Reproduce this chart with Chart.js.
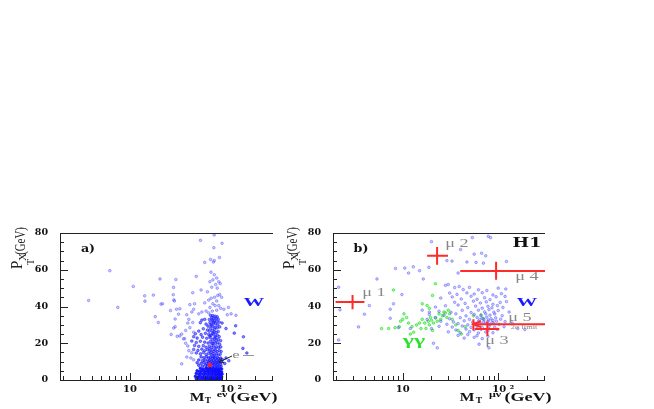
<!DOCTYPE html>
<html>
<head>
<meta charset="utf-8">
<script src="https://cdn.jsdelivr.net/npm/chart.js@4"></script>
<style>
  body { margin: 0; background: #fff; width: 654px; height: 409px; overflow: hidden; position: relative; }
  canvas { position: absolute; top: 220px; }
  #chartA { left: 0; }
  #chartB { left: 280px; }
</style>
</head>
<body>
<canvas id="chartA" width="280" height="189"></canvas>
<canvas id="chartB" width="280" height="189"></canvas>
<script>
// all events are [M_T in GeV, P_T^X in GeV]
const sparseA = [[3.7,43.3],[6.15,59.5],[7.45,39.5],[10.8,50.9],[14.2,45.8],[14.3,42.9],[17.5,46.2],[18.3,34.5],[19.7,31.3],[20.5,55],[21,41.3],[21.8,41.5],
  [30,54.7],[28.4,50.4],[28.2,46.4],[28.6,43.6],[29,43],[26.4,37.8],[30.5,38.5],[33,38.8],[32,35.8],[29.5,33.2],[26.8,24.8],[28.5,28.3],[29.5,29],[31,23.8],[33,24],[34.5,25],
  [37,22.5],[38,20],[40,18.5],[36,22.4],[41,16],[44,14.8],[34.5,8.8],[39,12.5],[43,12],[46,11],[38,27],[42,28.5],[40,31],[45,31.3],[46,26],[41,33],[39,35.5],[44,37],[46,38.5],[42,41],[47,41.5],[45,47.5],[49,56.4],[55,49]];
const upperA = [[54.2,76],[75.3,78.9],[91,74.4],[74.7,72],[85.5,66.7],[69,65.6],[75.5,65],[60,64],[74,64.2],[69.7,58.7],[75.5,57.3],[80,55.5],[73,54.5],[68,53.5],[84,53.5],[87,52.5],[78,52],[81,50],[71,50.5],
  [64,48],[86,46.5],[82,46],[76,45],[70,44.5],[66,43.5],[90,45],[80,43],[73,41.5],[77,40.5],[84,40.5],[60,42],[68,39.5],[88,39],[80,38],[95,38.5],[106,39.5],[56,37],[62,37.5],[72,37.5],[66,36.5],[113,36],[103,35.5],[127,35.2],[52,36]];
const columnA = [[69,35.2],[73,35],[77,34.7],[81,34.4],[71,34.1],[75,33.6],[79,33.4],[83,33.1],[67,32.9],[72,32.4],[76,32.1],[80,31.8],[85,31.5],[68,31.2],[74,30.9],[78,30.6],[70,30.2],[82,30],[91,31],[60,33],[56,32.6],[54,31.2],[62,30.4],[65,29.3],[73,29.1],[77,28.7],[81,28.4],[86,28.9],[69,28.1],[126,29.5],[58,27.9],[64,27.2],[67,26.6],[72,26.9],[75,26.2],[79,25.9],[83,26.4],
  [52,26.6],[48,25.2],[55,24.7],[61,25.4],[66,24.8],[70,24.3],[74,25.1],[77,23.9],[81,24.4],[85,23.6],[122,25.5],[100,28],[46,23.6],[50,22.8],[57,23.3],[63,22.7],[68,23.1],[72,22.2],[76,22.7],[79,21.6],[83,22.1],[88,21.4],[44,21.2],[49,20.4],[54,21.1],[60,20.6],[65,20.1],[69,21],[73,19.7],[75,20.8],[78,19.9],[82,20.3],[86,19.4],[152,23.5],
  [47,18.8],[52,18.3],[58,18.7],[62,17.8],[67,18.4],[71,17.7],[74,18.6],[77,17.4],[80,18.1],[84,17.6],[88,18],[46,16.6],[51,16.1],[56,16.8],[60,15.9],[64,16.5],[68,15.8],[72,16.4],[75,15.6],[78,16.2],[81,15.4],[85,16],[89,15.5],[150,17.2],[165,14.7],[49,14.7],[54,14.2],[58,14.9],[62,13.9],[66,14.5],[70,13.7],[73,14.4],[76,13.5],[79,14.2],[83,13.6],[87,14],[100,12],[107,10.5],
  [71,33],[74,31.4],[70,29.6],[76,27.6],[72,25.4],[68,24],[78,23],[71,19.9],[67,17],[70,15],[74,12.8]];
const middleA = [[55,12.6],[59,12.1],[63,12.7],[66,11.9],[69,12.4],[72,11.8],[75,12.3],[78,11.7],[81,12.2],[84,11.6],[88,12],[92,11],[52,10.9],[57,10.6],[61,10.9],[65,10.3],[68,10.8],[71,10.2],[74,10.7],[77,10.1],[80,10.6],[83,10],[86,10.5],[90,9.8],[50,9.4],[55,9.1],[59,9.6],[63,8.9],[66,9.4],[69,8.8],[72,9.3],[75,8.7],[78,9.2],[81,8.6],[84,9.1],[88,8.5],[97,9],[52,8],[57,7.6],[61,8.1],[64,7.4],[67,7.9],[70,7.3],[73,7.8],[76,7.2],[79,7.7],[82,7.1],[85,7.6],[89,7.4]];
const bottomA = [[54,6.4],[58,6],[62,6.5],[65,5.9],[68,6.4],[71,5.8],[74,6.3],[77,5.7],[80,6.2],[83,5.6],[86,6.1],[90,6],[50,5],[53,4.7],[56,5.2],[59,4.6],[62,5.1],[65,4.5],[68,5],[71,4.4],[74,4.9],[77,4.3],[80,4.8],[83,4.2],[86,4.7],[90,4.4],
  [49,3.6],[52,3.2],[55,3.7],[58,3.1],[61,3.6],[64,3],[67,3.5],[70,2.9],[73,3.4],[76,2.8],[79,3.3],[82,2.7],[85,3.2],[88,2.8],[91,3.2],[48,2],[51,1.6],[54,2.1],[57,1.5],[60,2],[63,1.4],[66,1.9],[69,1.3],[72,1.8],[75,1.2],[78,1.7],[81,1.1],[84,1.6],[87,1.2],[90,1.7],[49,0.7],[53,0.5],[56,0.8],[59,0.4],[62,0.7],[65,0.3],[68,0.6],[71,0.3],[74,0.6],[77,0.3],[80,0.5],[83,0.3],[86,0.5],[89,0.4]];

const sparseB = [[2.13,50.5],[2.2,38.2],[2.13,21.8],[3.44,28.9],[3.97,35.8],[4.47,40.5],[5.37,55],[7.4,38.5],[8,41.5],[7.4,33.6],[8.4,60.7],[10.5,60.9],[12.9,61.6],[11.5,58.2],[15,59.5],[16.4,55],[18.8,61.3],[20,75.3],[9.8,46.5],[29,65],[32.8,64.7],[40.3,71],[53.6,77.5],[78.6,78.2],[83,77.5],[56,68.5],[67,69],[74,67.6],[47,64.2],[58.6,64],[70,63.6],[122,64.5],[38,58.2],[30,52],[21,20],[23,17.5],[63,19.5],[80,17.5],[16,38],[18,33],[12,28],[9,28.5],[19,37],[20,28]];
const cloudB = [[28,51.5],[35,50.3],[39,50.9],[43,49.2],[50,50.4],[62,49.1],[76,48.7],[100,50],[120,49.5],[31,47.3],[37,46.6],[47,47.4],[56,46.8],[68,47.5],[88,46.3],[108,47],[25,44.6],[33,45.2],[41,44.1],[52,45.6],[60,43.9],[72,44.8],[82,43.7],[95,45.3],[118,45.5],[35,42.3],[45,41.7],[55,42.9],[65,41.9],[75,42.5],[88,41.2],[105,42.2],[122,42.7],
  [22,39.7],[28,40.4],[38,40.8],[48,39.4],[58,40.2],[68,39.1],[78,40.1],[86,39.3],[98,40.5],[112,39.5],[24,37.4],[32,36.9],[42,37.9],[52,36.7],[62,38],[72,37.1],[80,38.3],[90,36.9],[100,37.8],[130,37],[19,35.7],[27,35.2],[36,36],[46,34.9],[56,35.7],[66,35],[74,36],[82,35.3],[92,35.9],[110,35],
  [22,33.8],[31,33.3],[40,33.9],[50,33],[60,34.1],[68,33.6],[76,34.2],[84,33.3],[94,33.8],[106,33.1],[64,32.9],[71,32.8],[79,32.6],[88,32.4],[25,32],[34,31.6],[44,32.2],[54,31.4],[62,32],[70,31.7],[78,31.9],[86,31.3],[96,32],[118,31.8],[29,30.3],[38,30.7],[48,30],[58,30.8],[66,30.5],[74,30.9],[82,30.2],[90,30.7],[102,30.3],[140,31],
  [24,29.2],[33,28.8],[42,29.4],[52,28.6],[60,29.1],[68,28.5],[80,29],[92,28.7],[115,29],[36,27.2],[46,27.7],[56,27.3],[66,27.6],[78,26.9],[98,27.5],[160,28],[190,27.5],[30,26.2],[40,25.8],[50,26.3],[62,25.6],[74,26.1],[88,25.7],[38,24.3],[48,24.7],[60,24.1],[78,23.8],[44,22.8],[56,23.2],[68,22.5]];
const gammaB = [[8,49],[22,52.4],[20.5,46],[16,41.5],[18,40.5],[19,39],[10.3,36],[6,28],[7.1,28],[8.3,28.5],[9.2,29],[9.5,32],[10,33],[11,34],[11.5,31],[12.5,29],[13,26],[12,25],[14,30],[15,31],[15.5,28],[16,33],[17,31],[17.5,28],[18.5,32],[19,30],[19.5,34],[20,32.5],[20.5,27],[21,31],[22,34],[23,32],[24,36],[25,33],[26,35],[27,37],[28,36.5],[29,34],[30,38],[31,36],[33,33],[36,30],[38,27],[41,25],[45,29],[55,35],[66,35.5],[70,33.5]];

// muon candidates: centre and error bar ends
const muMass = [2.98, 22.9, 95, 55, 77];
const muMassLo = [1.98, 18, 40, 53.5, 57.3];
const muMassHi = [3.97, 29.8, 309, 309, 102.6];
const muPt = [42.4, 67.6, 59.3, 30.4, 27.8];
const muPtLo = [38.5, 62.7, 54.5, 27, 24];
const muPtHi = [46.2, 72.4, 64.4, 33, 31.8];
// limit arrow on mu5
const limitMass = [66, 55, 66];
const limitPt = [32, 30.4, 28.8];
// the electron candidate in a)
const eleMass = [67.7];
const elePt = [8.2];

const xLabelTicks = [10, 100];
const xMinorTicks = [2,3,4,5,6,7,8,9,10,20,30,40,50,60,70,80,90,100,200,300];
const yLabelTicks = [0, 20, 40, 60, 80];
const yMinorTicks = [5,10,15,25,30,35,45,50,55,65,70,75];

const serif = '"Liberation Serif", serif';
const wide = '"DejaVu Serif", serif';
const blue = 'rgba(70,70,255,0.55)';

function toPoints(pairs) {
  return pairs.map(p => ({ x: p[0], y: p[1] }));
}

function crossPoints() {
  let pts = [];
  for (let i = 0; i < muMass.length; i++) {
    pts.push({ x: muMassLo[i], y: muPt[i] }, { x: muMassHi[i], y: muPt[i] }, { x: muMass[i], y: null });
    pts.push({ x: muMass[i], y: muPtLo[i] }, { x: muMass[i], y: muPtHi[i] }, { x: muMass[i], y: null });
  }
  return pts;
}

function text(ctx, str, x, y, font, color, stretch) {
  ctx.save();
  ctx.translate(x, y);
  ctx.scale(stretch || 1, 1);
  ctx.font = font;
  ctx.fillStyle = color;
  ctx.textBaseline = 'middle';
  ctx.textAlign = 'center';
  ctx.fillText(str, 0, 0);
  ctx.restore();
}

// inward ticks and the frame
const framePlugin = {
  id: 'frame',
  afterDraw(chart) {
    const { ctx, chartArea: a, scales } = chart;
    ctx.save();
    ctx.strokeStyle = '#222';
    ctx.lineWidth = 1;
    ctx.beginPath();
    ctx.moveTo(a.left + 0.5, a.top + 0.5);
    ctx.lineTo(a.right, a.top + 0.5);
    ctx.moveTo(a.left + 0.5, a.top);
    ctx.lineTo(a.left + 0.5, a.bottom + 0.5);
    ctx.lineTo(a.right, a.bottom + 0.5);
    xMinorTicks.forEach(v => {
      const px = Math.round(scales.x.getPixelForValue(v)) + 0.5;
      ctx.moveTo(px, a.bottom);
      ctx.lineTo(px, a.bottom - (xLabelTicks.includes(v) ? 7 : 4));
    });
    yLabelTicks.forEach(v => {
      const py = Math.round(scales.y.getPixelForValue(v)) + 0.5;
      ctx.moveTo(a.left, py);
      ctx.lineTo(a.left + 8, py);
    });
    yMinorTicks.forEach(v => {
      const py = Math.round(scales.y.getPixelForValue(v)) + 0.5;
      ctx.moveTo(a.left, py);
      ctx.lineTo(a.left + 4, py);
    });
    ctx.stroke();
    ctx.restore();
  }
};

const labelsA = {
  id: 'labelsA',
  afterDraw(chart) {
    const ctx = chart.ctx;
    text(ctx, 'a)', 88, 29, 'bold 11px ' + wide, '#111', 1.15);
    text(ctx, 'W', 254, 83, 'bold 13px ' + serif, '#1a1aff', 1.6);
    text(ctx, 'e', 236, 135, '11px ' + serif, '#888', 1.5);
    ctx.save();
    ctx.strokeStyle = '#999';
    ctx.beginPath();
    ctx.moveTo(243, 135.5);
    ctx.lineTo(254, 135.5);
    ctx.stroke();
    ctx.strokeStyle = '#222';
    ctx.beginPath();
    ctx.moveTo(232, 136);
    ctx.lineTo(219, 142);
    ctx.moveTo(224, 142.5);
    ctx.lineTo(219, 142);
    ctx.lineTo(222, 138);
    ctx.stroke();
    ctx.restore();
    yTitle(ctx, 18);
    xTitle(ctx, 'e\u03bd', 197, 208, 222, 254);
  }
};

const labelsB = {
  id: 'labelsB',
  afterDraw(chart) {
    const ctx = chart.ctx;
    const grey = '#888';
    const muFont = '13px ' + serif;
    text(ctx, 'b)', 81, 29, 'bold 11px ' + wide, '#111', 1.15);
    text(ctx, 'H1', 247, 24, 'bold 13px ' + wide, '#111', 1.35);
    text(ctx, '\u03bc 1', 94, 73, muFont, grey, 1.4);
    text(ctx, '\u03bc 2', 177, 24, muFont, grey, 1.4);
    text(ctx, '\u03bc 4', 247, 57, muFont, grey, 1.4);
    text(ctx, '\u03bc 5', 240, 98, muFont, grey, 1.4);
    text(ctx, '\u03bc 3', 217, 121, muFont, grey, 1.4);
    text(ctx, '2\u03c3 limit', 244, 107, '7px ' + serif, grey, 1.2);
    text(ctx, 'W', 247, 83, 'bold 13px ' + serif, '#1a1aff', 1.6);
    text(ctx, '\u03b3\u03b3', 134, 121, 'bold 14px ' + serif, '#30e030', 1.7);
    yTitle(ctx, 10);
    xTitle(ctx, '\u03bc\u03bd', 187, 199, 215, 248);
  }
};

function yTitle(ctx, x) {
  ctx.save();
  ctx.translate(x, 45);
  ctx.rotate(-Math.PI / 2);
  text(ctx, 'P', 0, 0, '17px ' + serif, '#222', 0.9);
  text(ctx, 'T', 3, 13, '10px ' + serif, '#222', 1);
  text(ctx, 'X', 8, 5, '11px ' + serif, '#222', 1);
  text(ctx, '(GeV)', 24, 3, '15px ' + serif, '#222', 0.72);
  ctx.restore();
}

function xTitle(ctx, sup, mx, tx, sx, gx) {
  const y = 178;
  text(ctx, 'M', mx, y, 'bold 12px ' + serif, '#111', 1.3);
  text(ctx, 'T', tx, y + 3, 'bold 8px ' + serif, '#111', 1.2);
  text(ctx, sup, sx, y - 3, 'bold 8px ' + serif, '#111', 1.5);
  text(ctx, '(GeV)', gx, y, 'bold 12px ' + serif, '#111', 1.5);
}

function scatterSet(data, color, fill) {
  return { type: 'scatter', data: data, pointStyle: 'circle', pointRadius: 1.3, borderWidth: 0.8,
    pointBorderColor: color, pointBackgroundColor: fill, showLine: false };
}

function makeChart(id, datasets, labelPlugin, yWidth, padRight) {
  return new Chart(document.getElementById(id), {
    data: { datasets: datasets },
    plugins: [framePlugin, labelPlugin],
    options: {
      responsive: false,
      animation: false,
      layout: { padding: { top: 13, right: padRight, left: 0, bottom: 0 } },
      plugins: { legend: { display: false }, tooltip: { enabled: false } },
      scales: {
        x: {
          type: 'logarithmic', min: 1.86, max: 309,
          afterBuildTicks(s) { s.ticks = xLabelTicks.map(v => ({ value: v })); },
          afterFit(s) { s.height = 29; s.paddingLeft = 0; s.paddingRight = 0; },
          grid: { display: false, drawTicks: false, tickLength: 0 }, border: { display: false },
          ticks: {
            autoSkip: false, maxRotation: 0, padding: 3, color: '#111',
            font: { family: wide, weight: 'bold', size: 10 },
            callback: v => v === 100 ? '\u200310 \u00b2' : String(v)
          }
        },
        y: {
          min: 0, max: 80,
          afterBuildTicks(s) { s.ticks = yLabelTicks.map(v => ({ value: v })); },
          afterFit(s) { s.width = yWidth; s.paddingTop = 0; s.paddingBottom = 0; },
          grid: { display: false, drawTicks: false, tickLength: 0 }, border: { display: false },
          ticks: {
            padding: 12, color: '#111',
            font: { family: wide, weight: 'bold', size: 9.5 }
          }
        }
      }
    }
  });
}

makeChart('chartA', [
  { type: 'scatter', data: eleMass.map((m, i) => ({ x: m, y: elePt[i] })), pointRadius: 2.2, pointBackgroundColor: '#ff2020', pointBorderWidth: 0, order: 0 },
  scatterSet(toPoints(sparseA), blue, 'rgba(90,90,255,0.3)'),
  scatterSet(toPoints(upperA), blue, 'rgba(90,90,255,0.3)'),
  scatterSet(toPoints(columnA), 'rgba(30,30,255,0.75)', 'rgba(40,40,255,0.55)'),
  scatterSet(toPoints(middleA), 'rgba(20,20,255,0.8)', 'rgba(30,30,255,0.6)'),
  scatterSet(toPoints(bottomA), 'rgba(10,10,255,0.95)', 'rgba(10,10,255,0.9)')
], labelsA, 60, 7);

makeChart('chartB', [
  { type: 'line', data: crossPoints(), borderColor: '#ff2a2a', borderWidth: 2, pointRadius: 0, spanGaps: false, order: 0 },
  { type: 'line', data: limitMass.map((m, i) => ({ x: m, y: limitPt[i] })), borderColor: '#ff2a2a', borderWidth: 2, pointRadius: 0, order: 0 },
  scatterSet(toPoints(sparseB), blue, 'rgba(90,90,255,0.3)'),
  scatterSet(toPoints(cloudB), blue, 'rgba(90,90,255,0.3)'),
  scatterSet(toPoints(gammaB), 'rgba(40,225,40,0.85)', 'rgba(40,225,40,0.4)')
], labelsB, 53, 15);
</script>
</body>
</html>
